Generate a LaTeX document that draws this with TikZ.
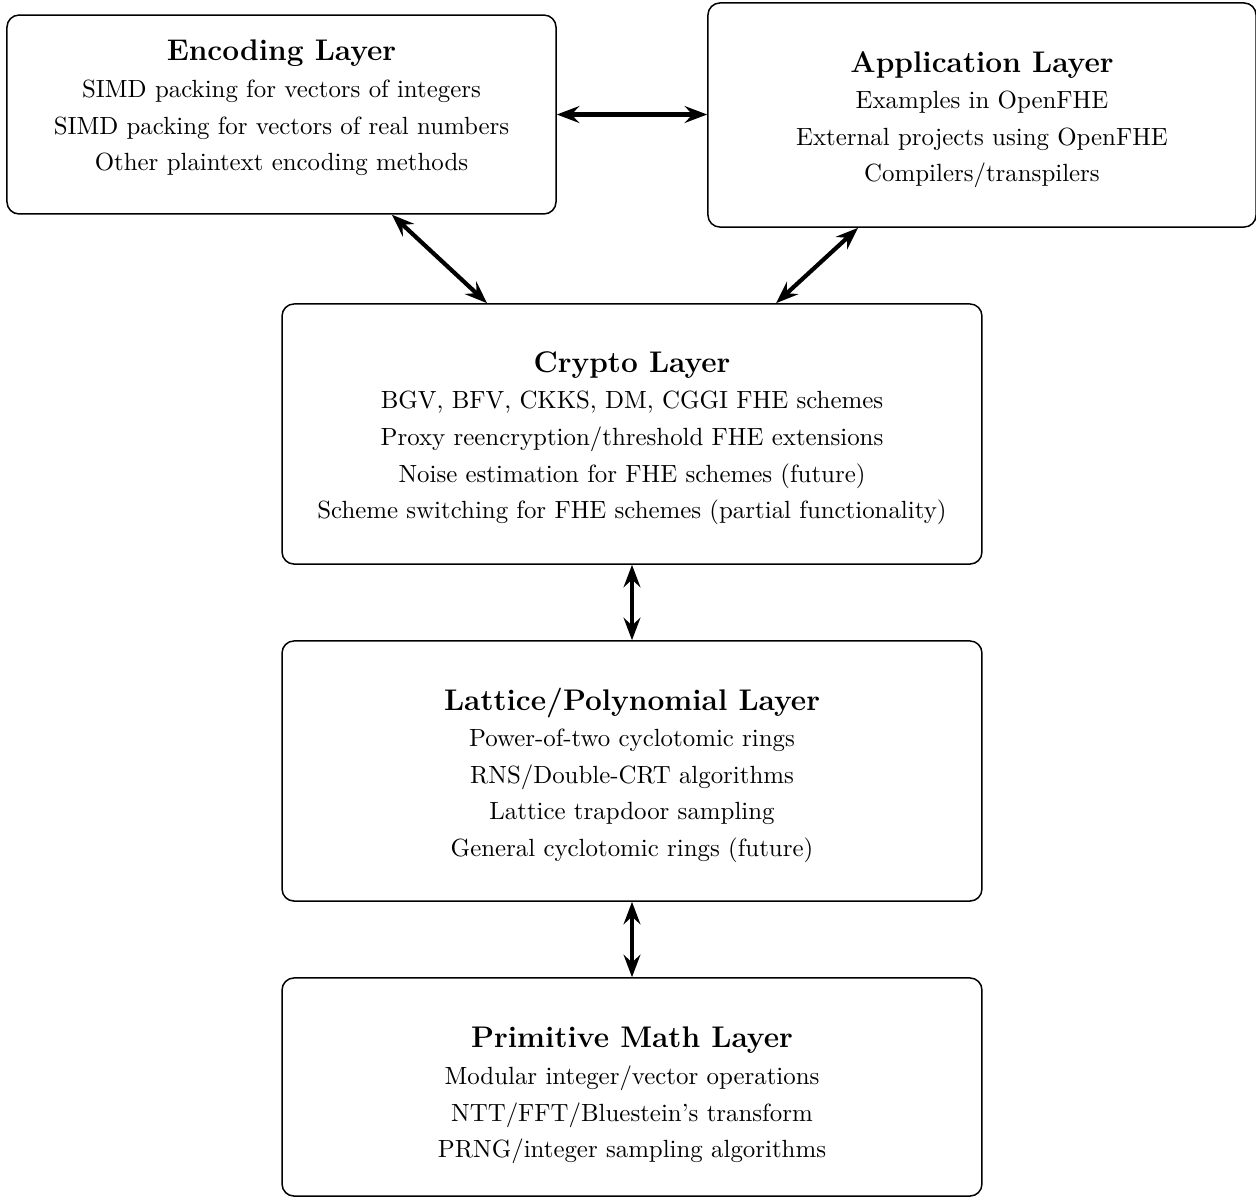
\documentclass[tikz,border=0pt]{standalone}
\usetikzlibrary{arrows.meta,calc}
\newcommand{\layertext}[3]{\raisebox{#1}[\height][\depth]{\scalebox{0.829}{\fontsize{10pt}{14.7pt}\selectfont\begin{tabular}{@{}c@{}}{\large\bfseries #2}\\ #3\end{tabular}}}}
\begin{document}
\begin{tikzpicture}[x=0.33333pt,y=-0.33333pt,
  layer/.style={draw, rounded corners=4pt, align=center, inner sep=0pt, line width=0.5pt},
  arr/.style={{Stealth[length=7.5pt,width=5.6pt,inset=2.6pt]}-{Stealth[length=7.5pt,width=5.6pt,inset=2.6pt]}, line width=1.4pt}]
\useasboundingbox (0,0) rectangle (1256,1198);
\node[layer, minimum width=183pt, minimum height=66.3pt] (enc) at (281.5,114.5)
  {\layertext{2pt}{Encoding Layer}{SIMD packing for vectors of integers\\ SIMD packing for vectors of real numbers\\ Other plaintext encoding methods}};
\node[layer, minimum width=182.7pt, minimum height=74.7pt] (app) at (982,115)
  {\layertext{-1.6pt}{Application Layer}{Examples in OpenFHE\\ External projects using OpenFHE\\ Compilers/transpilers}};
\node[layer, minimum width=233.3pt, minimum height=86.7pt] (crypto) at (632,434)
  {\layertext{-1.4pt}{Crypto Layer}{BGV, BFV, CKKS, DM, CGGI FHE schemes\\ Proxy reencryption/threshold FHE extensions\\ Noise estimation for FHE schemes (future)\\ Scheme switching for FHE schemes (partial functionality)}};
\node[layer, minimum width=233.3pt, minimum height=86.7pt] (lat) at (632,771)
  {\layertext{-1.6pt}{Lattice/Polynomial Layer}{Power-of-two cyclotomic rings\\ RNS/Double-CRT algorithms\\ Lattice trapdoor sampling\\ General cyclotomic rings (future)}};
\node[layer, minimum width=233.3pt, minimum height=72.7pt] (prim) at (632,1087)
  {\layertext{-2.8pt}{Primitive Math Layer}{Modular integer/vector operations\\ NTT/FFT/Bluestein's transform\\ PRNG/integer sampling algorithms}};
\draw[arr] (enc.east) -- (enc.east -| app.west);
\draw[arr] ([xshift=36.8pt]enc.south) -- ([xshift=-48.3pt]crypto.north);
\draw[arr] ([xshift=-41.3pt]app.south) -- ([xshift=48pt]crypto.north);
\draw[arr] (crypto.south) -- (lat.north);
\draw[arr] (lat.south) -- (prim.north);
\end{tikzpicture}
\end{document}
